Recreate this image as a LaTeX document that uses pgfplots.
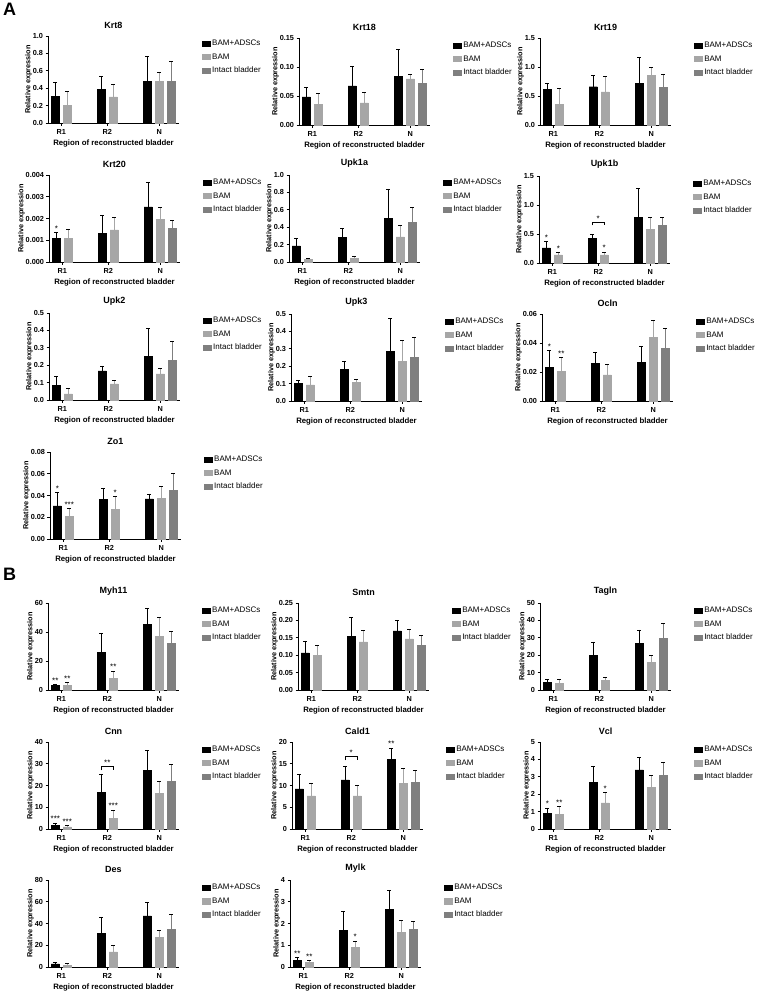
\documentclass[border=0pt]{standalone}
\usepackage{fontspec}
\setmainfont{Liberation Sans}
\usepackage{pgfplots}
\pgfplotsset{compat=1.18}
\definecolor{bamgray}{HTML}{A6A6A6}
\definecolor{intgray}{HTML}{7F7F7F}
\pgfplotsset{
 panel/.style={scale only axis, width=131pt, height=87pt, anchor=south west,
  xmin=-0.42, xmax=2.43, ymin=0, clip=false,
  axis x line*=bottom, axis y line*=left,
  axis line style={line width=0.8pt},
  xtick={-0.13,0.87,2}, xticklabels={R1,R2,N},
  tick align=outside, major tick length=2.5pt, tick style={line width=0.8pt, black},
  ticklabel style={font=\bfseries\fontsize{7.3}{8}\selectfont},
  yticklabel style={xshift=1pt},
  /pgf/number format/assume math mode=true,
  scaled y ticks=false,
  title style={font=\bfseries\fontsize{9}{10}\selectfont, yshift=-2pt},
  xlabel={Region of reconstructed bladder},
  xlabel style={font=\bfseries\fontsize{7.8}{9}\selectfont},
  xlabel shift=-1pt,
  ylabel={Relative expression},
  ylabel style={font=\bfseries\fontsize{7.3}{8}\selectfont},
  ylabel shift=-6pt,
  legend style={draw=none, fill=none, at={(1.15,1)}, anchor=north west, font=\fontsize{8}{9.5}\selectfont, row sep=2.3pt},
  legend cell align=left,
  error bars/y dir=plus, error bars/y explicit,
  error bars/error bar style={line width=0.8pt},
  error bars/error mark options={rotate=90, mark size=2pt, line width=0.8pt},
 },
 prec/.style={yticklabel style={/pgf/number format/fixed, /pgf/number format/fixed zerofill, /pgf/number format/precision=#1}},
 s1/.style={ybar, bar shift=0pt, bar width=0.18, fill=black, draw=black, legend image code/.code={\fill[black] (0pt,-2.6pt) rectangle (8pt,2.6pt);}},
 s2/.style={ybar, bar shift=0pt, bar width=0.18, fill=bamgray, draw=bamgray, legend image code/.code={\fill[bamgray] (0pt,-2.6pt) rectangle (8pt,2.6pt);}},
 s3/.style={ybar, bar shift=0pt, bar width=0.18, fill=intgray, draw=intgray, legend image code/.code={\fill[intgray] (0pt,-2.6pt) rectangle (8pt,2.6pt);}},
}
\newcommand\bars[3]{\addplot[s1] coordinates {#1};\addplot[s2] coordinates {#2};\addplot[s3] coordinates {#3};\legend{BAM+ADSCs,BAM,Intact bladder}}
\newcommand\sig[3]{\node[font=\fontsize{8}{8}\selectfont, anchor=south, inner sep=0pt, yshift=1pt] at (axis cs:#1,#2) {#3};}
\newcommand\brk[3]{\draw[line width=0.6pt] (axis cs:0.74,#2) -- (axis cs:0.74,#1) -- (axis cs:1,#1) -- (axis cs:1,#2);\node[font=\fontsize{8}{8}\selectfont, anchor=south, inner sep=0pt, yshift=0.5pt] at (axis cs:0.87,#1) {#3};}
\begin{document}
\begin{tikzpicture}
\useasboundingbox (0,0) rectangle (756pt,-991pt);
\node[anchor=north west, font=\bfseries\fontsize{18}{18}\selectfont, inner sep=0pt] at (3pt,-3pt) {A};
\node[anchor=north west, font=\bfseries\fontsize{18}{18}\selectfont, inner sep=0pt] at (3pt,-568pt) {B};
% ---- Row A1
\begin{axis}[panel, at={(48pt,-123pt)}, title={Krt8}, ymax=1.0, ytick={0,0.2,0.4,0.6,0.8,1.0}, prec=1]
\bars{(-0.26,0.31) +- (0,0.16) (0.74,0.39) +- (0,0.15) (1.74,0.48) +- (0,0.29)}
{(0,0.20) +- (0,0.16) (1,0.30) +- (0,0.14) (2,0.48) +- (0,0.10)}
{(2.26,0.475) +- (0,0.235)}
\end{axis}
\begin{axis}[panel, at={(299pt,-125pt)}, title={Krt18}, ymax=0.15, ytick={0,0.05,0.10,0.15}, prec=2]
\bars{(-0.26,0.0487) +- (0,0.0153) (0.74,0.0675) +- (0,0.0335) (1.74,0.084) +- (0,0.047)}
{(0,0.036) +- (0,0.018) (1,0.038) +- (0,0.019) (2,0.0796) +- (0,0.0074)}
{(2.26,0.072) +- (0,0.0236)}
\end{axis}
\begin{axis}[panel, at={(540pt,-125pt)}, title={Krt19}, ymax=1.5, ytick={0,0.5,1.0,1.5}, prec=1]
\bars{(-0.26,0.61) +- (0,0.11) (0.74,0.66) +- (0,0.20) (1.74,0.72) +- (0,0.44)}
{(0,0.36) +- (0,0.27) (1,0.57) +- (0,0.27) (2,0.86) +- (0,0.14)}
{(2.26,0.66) +- (0,0.22)}
\end{axis}
% ---- Row A2
\begin{axis}[panel, at={(49pt,-262pt)}, title={Krt20}, ymax=0.004, ytick={0,0.001,0.002,0.003,0.004}, prec=3]
\bars{(-0.26,0.00109) +- (0,0.00027) (0.74,0.00132) +- (0,0.00082) (1.74,0.00253) +- (0,0.00115)}
{(0,0.00108) +- (0,0.00044) (1,0.00148) +- (0,0.00055) (2,0.00195) +- (0,0.00057)}
{(2.26,0.00156) +- (0,0.00036)}
\sig{-0.26}{0.00136}{*}
\end{axis}
\begin{axis}[panel, at={(289pt,-262pt)}, title={Upk1a}, ymax=1.0, ytick={0,0.2,0.4,0.6,0.8,1.0}, prec=1]
\bars{(-0.26,0.186) +- (0,0.084) (0.74,0.28) +- (0,0.11) (1.74,0.50) +- (0,0.34)}
{(0,0.027) +- (0,0.013) (1,0.04) +- (0,0.03) (2,0.29) +- (0,0.13)}
{(2.26,0.46) +- (0,0.17)}
\end{axis}
\begin{axis}[panel, at={(539pt,-263pt)}, title={Upk1b}, ymax=1.5, ytick={0,0.5,1.0,1.5}, prec=1]
\bars{(-0.26,0.26) +- (0,0.11) (0.74,0.43) +- (0,0.07) (1.74,0.79) +- (0,0.50)}
{(0,0.14) +- (0,0.04) (1,0.14) +- (0,0.05) (2,0.58) +- (0,0.21)}
{(2.26,0.645) +- (0,0.145)}
\sig{-0.26}{0.37}{*}\sig{0}{0.18}{*}\sig{1}{0.19}{*}
\brk{0.70}{0.65}{*}
\end{axis}
% ---- Row A3
\begin{axis}[panel, at={(49pt,-400pt)}, title={Upk2}, ymax=0.5, ytick={0,0.1,0.2,0.3,0.4,0.5}, prec=1]
\bars{(-0.26,0.083) +- (0,0.054) (0.74,0.167) +- (0,0.029) (1.74,0.25) +- (0,0.16)}
{(0,0.035) +- (0,0.032) (1,0.092) +- (0,0.02) (2,0.15) +- (0,0.03)}
{(2.26,0.23) +- (0,0.107)}
\end{axis}
\begin{axis}[panel, at={(291pt,-401pt)}, title={Upk3}, ymax=0.5, ytick={0,0.1,0.2,0.3,0.4,0.5}, prec=1]
\bars{(-0.26,0.103) +- (0,0.017) (0.74,0.183) +- (0,0.047) (1.74,0.285) +- (0,0.189)}
{(0,0.092) +- (0,0.052) (1,0.109) +- (0,0.016) (2,0.228) +- (0,0.118)}
{(2.26,0.249) +- (0,0.116)}
\end{axis}
\begin{axis}[panel, at={(542pt,-401pt)}, title={Ocln}, ymax=0.06, ytick={0,0.02,0.04,0.06}, prec=2]
\bars{(-0.26,0.0232) +- (0,0.0118) (0.74,0.026) +- (0,0.0074) (1.74,0.0266) +- (0,0.0109)}
{(0,0.0205) +- (0,0.0095) (1,0.018) +- (0,0.0075) (2,0.044) +- (0,0.0117)}
{(2.26,0.0364) +- (0,0.0136)}
\sig{-0.26}{0.035}{*}\sig{0}{0.030}{**}
\end{axis}
% ---- Row A4
\begin{axis}[panel, at={(50pt,-539pt)}, title={Zo1}, ymax=0.08, ytick={0,0.02,0.04,0.06,0.08}, prec=2]
\bars{(-0.26,0.0304) +- (0,0.0126) (0.74,0.0365) +- (0,0.0101) (1.74,0.0368) +- (0,0.0046)}
{(0,0.0207) +- (0,0.0073) (1,0.0274) +- (0,0.0116) (2,0.0374) +- (0,0.011)}
{(2.26,0.045) +- (0,0.015)}
\sig{-0.26}{0.043}{*}\sig{0}{0.028}{***}\sig{1}{0.039}{*}
\end{axis}
% ---- Row B1
\begin{axis}[panel, at={(48pt,-690pt)}, title={Myh11}, ymax=60, ytick={0,20,40,60}, prec=0]
\bars{(-0.26,3.0) +- (0,0.9) (0.74,26.1) +- (0,13.1) (1.74,45.3) +- (0,10.8)}
{(0,3.0) +- (0,2.0) (1,8.0) +- (0,5.1) (2,37.1) +- (0,12.8)}
{(2.26,32.1) +- (0,8.4)}
\sig{-0.26}{3.9}{**}\sig{0}{5.0}{**}\sig{1}{13.1}{**}
\end{axis}
\begin{axis}[panel, at={(298pt,-690pt)}, title={Smtn}, ymax=0.25, ytick={0,0.05,0.10,0.15,0.20,0.25}, prec=2]
\bars{(-0.26,0.107) +- (0,0.034) (0.74,0.155) +- (0,0.053) (1.74,0.170) +- (0,0.030)}
{(0,0.099) +- (0,0.030) (1,0.138) +- (0,0.033) (2,0.147) +- (0,0.027)}
{(2.26,0.130) +- (0,0.028)}
\end{axis}
\begin{axis}[panel, at={(540pt,-690pt)}, title={Tagln}, ymax=50, ytick={0,10,20,30,40,50}, prec=0]
\bars{(-0.26,4.6) +- (0,1.7) (0.74,20) +- (0,7.6) (1.74,27) +- (0,7.5)}
{(0,4.0) +- (0,2.3) (1,5.7) +- (0,1.8) (2,16) +- (0,4)}
{(2.26,30) +- (0,8)}
\end{axis}
% ---- Row B2
\begin{axis}[panel, at={(48pt,-829pt)}, title={Cnn}, ymax=40, ytick={0,10,20,30,40}, prec=0]
\bars{(-0.26,1.8) +- (0,1.0) (0.74,17) +- (0,8.3) (1.74,27) +- (0,9)}
{(0,1.0) +- (0,0.5) (1,5.0) +- (0,3.7) (2,16.5) +- (0,5.5)}
{(2.26,22) +- (0,7.5)}
\sig{-0.26}{2.8}{***}\sig{0}{1.5}{***}\sig{1}{8.7}{***}
\brk{29}{27}{**}
\end{axis}
\begin{axis}[panel, at={(292pt,-829pt)}, title={Cald1}, ymax=20, ytick={0,5,10,15,20}, prec=0]
\bars{(-0.26,9.2) +- (0,3.4) (0.74,11.3) +- (0,3.2) (1.74,16) +- (0,2.6)}
{(0,7.6) +- (0,3.0) (1,7.6) +- (0,2.5) (2,10.5) +- (0,3.5)}
{(2.26,10.8) +- (0,2.6)}
\brk{16.8}{15.8}{*}
\sig{1.74}{18.6}{**}
\end{axis}
\begin{axis}[panel, at={(540pt,-829pt)}, title={Vcl}, ymax=5, ytick={0,1,2,3,4,5}, prec=0]
\bars{(-0.26,0.9) +- (0,0.3) (0.74,2.7) +- (0,0.9) (1.74,3.4) +- (0,0.7)}
{(0,0.85) +- (0,0.45) (1,1.5) +- (0,0.6) (2,2.4) +- (0,0.7)}
{(2.26,3.1) +- (0,0.7)}
\sig{-0.26}{1.2}{*}\sig{0}{1.3}{**}\sig{1}{2.1}{*}
\end{axis}
% ---- Row B3
\begin{axis}[panel, at={(48pt,-967pt)}, title={Des}, ymax=80, ytick={0,20,40,60,80}, prec=0]
\bars{(-0.26,2.8) +- (0,1) (0.74,31) +- (0,15) (1.74,47) +- (0,12)}
{(0,1.8) +- (0,1.7) (1,14) +- (0,6) (2,27) +- (0,7)}
{(2.26,35) +- (0,13)}
\end{axis}
\begin{axis}[panel, at={(290pt,-967pt)}, title={Mylk}, ymax=4, ytick={0,1,2,3,4}, prec=0]
\bars{(-0.26,0.32) +- (0,0.1) (0.74,1.7) +- (0,0.85) (1.74,2.65) +- (0,0.85)}
{(0,0.22) +- (0,0.08) (1,0.92) +- (0,0.28) (2,1.6) +- (0,0.55)}
{(2.26,1.75) +- (0,0.35)}
\sig{-0.26}{0.42}{**}\sig{0}{0.30}{**}\sig{1}{1.2}{*}
\end{axis}
\end{tikzpicture}
\end{document}
